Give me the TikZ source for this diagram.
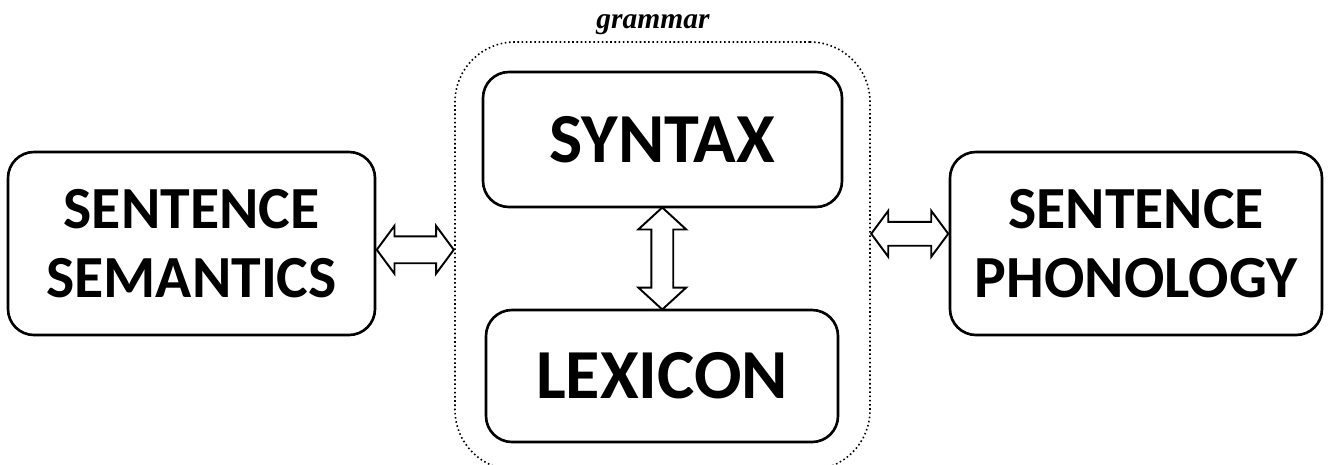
\documentclass[tikz,border=0pt]{standalone}
\usepackage{fontspec}
\setmainfont{Carlito}
\newfontfamily\grammarfont{Liberation Serif}
\usetikzlibrary{shapes.arrows,positioning}

\begin{document}
\begin{tikzpicture}[x=0.1mm, y=-0.1mm]
%% the figure is laid out in pixels of the 1330x464 drawing
%% boxes are placed by their centres, arrows sit between the boxes
\tikzstyle{module}=[draw, rounded corners=2.6mm, line width=0.75pt, align=center, font=\bfseries\fontsize{17}{19.5}\selectfont]
\tikzstyle{innermodule}=[module, font=\bfseries\fontsize{20}{22}\selectfont]
\tikzstyle{grammarbox}=[draw, rounded corners=6mm, line width=0.45pt, dash pattern=on 0.45pt off 0.75pt]
\tikzstyle{blockarrow}=[draw, double arrow, line width=0.55pt, inner xsep=0pt, fill=white]
\useasboundingbox (0,0) rectangle (1330,464);
%% grammar frame %%
\node[grammarbox, minimum width=41.5mm, minimum height=42.8mm] at (662.5,256) (gram) {};
%% label for the grammar frame
\node[font=\grammarfont\bfseries\itshape\fontsize{8.4}{10}\selectfont] at (653,25) (gramlabel) {grammar};
%% TikZ-figure elements %%
\node[module, minimum width=36.7mm, minimum height=18.3mm] at (191.5,243.5) (sem) {SENTENCE\\SEMANTICS};
\node[module, minimum width=37.2mm, minimum height=18.3mm] at (1136,243.5) (phon) {SENTENCE\\PHONOLOGY};
\node[innermodule, minimum width=35.9mm, minimum height=13.5mm] at (662.5,139.5) (syn) {SYNTAX};
\node[innermodule, minimum width=35.2mm, minimum height=13.2mm] at (662,376) (lex) {LEXICON};
%% arrows between the modules
\path (sem.east) -- (gram.west) node[blockarrow, midway, minimum height=7.7mm, inner ysep=1.25mm,
  double arrow head extend=1.05mm, double arrow tip angle=107] (semarrow) {};
\path (gram.east) -- (phon.west) node[blockarrow, midway, yshift=1.6mm, minimum height=7.7mm, inner ysep=1.1mm,
  double arrow head extend=1.1mm, double arrow tip angle=107] (phonarrow) {};
\path (syn.south) -- (lex.north) node[blockarrow, midway, rotate=90, minimum height=10.2mm, inner ysep=1mm,
  double arrow head extend=1.3mm, double arrow tip angle=95] (lexarrow) {};
\end{tikzpicture}
\end{document}
